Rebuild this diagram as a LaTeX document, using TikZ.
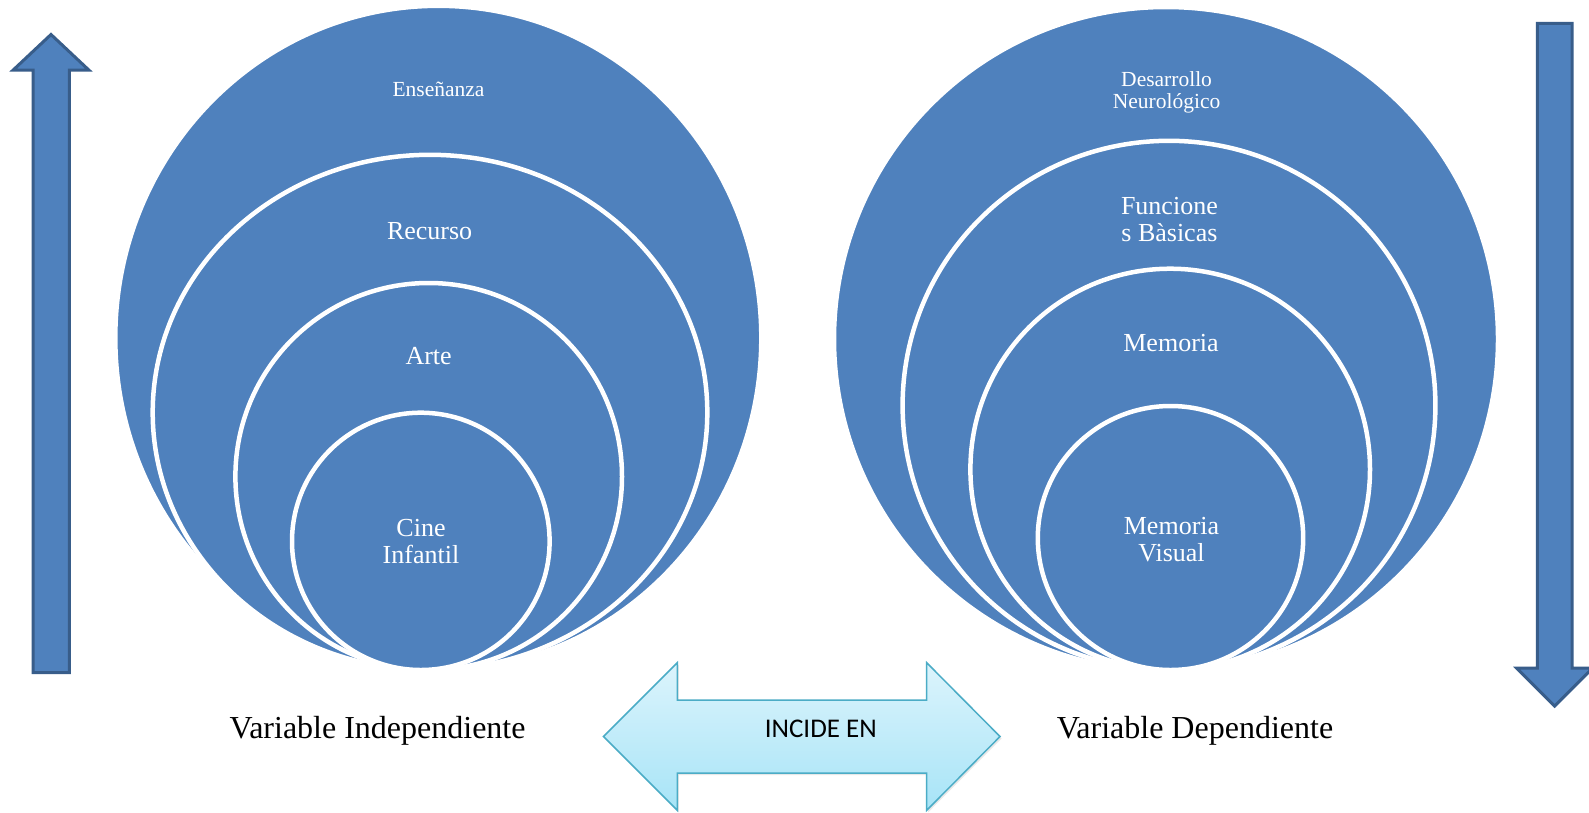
\documentclass[tikz,border=0pt]{standalone}
\usepackage{fontspec}
\setmainfont{Liberation Serif}
\newfontfamily\calibri{Carlito}
\usetikzlibrary{shadows}
\definecolor{ofblue}{HTML}{4F81BD}
\definecolor{ofdark}{HTML}{385D8A}
\definecolor{aqua}{HTML}{4BACC6}
\definecolor{aquatop}{HTML}{DCF4FC}
\definecolor{aquabot}{HTML}{A7E4F7}
\begin{document}
\begin{tikzpicture}[x=1pt,y=-1pt,
  disc/.style={fill=ofblue, draw=white, line width=4.5pt},
  lbl/.style={text=white, align=center, inner sep=0pt, anchor=base, font=\fontsize{26}{27}\selectfont},
  lblsmall/.style={lbl, font=\fontsize{21.5}{22}\selectfont},
  side/.style={fill=ofblue, draw=ofdark, line width=3pt, line join=miter},
  caption/.style={anchor=base, inner sep=0pt, font=\fontsize{32}{34}\selectfont}]
\useasboundingbox (0,0) rectangle (1589,812);
\clip (0,0) rectangle (1589,812);
\fill[white] (0,0) rectangle (1589,812);

% left stack
\draw[disc] (438.3,337.9) ellipse [x radius=323, y radius=332.1];
\draw[disc] (430,412.4) ellipse [x radius=277.3, y radius=257.6];
\draw[disc] (428.7,476.5) ellipse [x radius=193.3, y radius=193.5];
\draw[disc] (420.8,541.35) ellipse [x radius=128.8, y radius=128.65];

\node[lblsmall] (ens) at (438.5,96.7) {Enseñanza};
\node[lbl] (rec) at (429.6,239) {Recurso};
\node[lbl] (arte) at (428.6,364) {Arte};
\node[lbl] (cine) at (421,563.5) {Cine\\Infantil};

% right stack
\draw[disc] (1166,339) ellipse [x radius=332, y radius=332];
\draw[disc] (1169,405.4) ellipse [x radius=266.4, y radius=264.6];
\draw[disc] (1170.2,469.35) ellipse [x radius=199.8, y radius=200.65];
\draw[disc] (1170.5,538) ellipse [x radius=132.7, y radius=132];

\node[lblsmall] (des) at (1166.6,108.5) {Desarrollo\\Neurológico};
\node[lbl] (fun) at (1169.4,241.5) {Funcione\\s Bàsicas};
\node[lbl] (mem) at (1171,351.5) {Memoria};
\node[lbl] (memv) at (1171.5,561.5) {Memoria\\Visual};

% side arrows
\draw[side] (51,34.5) -- (88.8,70) -- (69.4,70) -- (69.4,672.5) -- (33.1,672.5) -- (33.1,70) -- (13.2,70) -- cycle;
\draw[side] (1554.6,706) -- (1516.6,668) -- (1537.3,668) -- (1537.3,23.25) -- (1572,23.25) -- (1572,668) -- (1592.6,668) -- cycle;

% middle double arrow
\draw[draw=aqua, line width=1.5pt, line join=miter, top color=aquatop, bottom color=aquabot,
      drop shadow={shadow xshift=1.5pt, shadow yshift=-2pt, opacity=0.18}]
  (603.5,736.5) -- (677.3,662.7) -- (677.3,700) -- (926.7,700) -- (926.7,662.7) -- (1000,736.5)
  -- (926.7,810.3) -- (926.7,773) -- (677.3,773) -- (677.3,810.3) -- cycle;
\node[anchor=base, inner sep=0pt, font=\calibri\fontsize{27}{30}\selectfont] (inc) at (820.8,737.3) {INCIDE EN};

\node[caption] (vi) at (377.6,738) {Variable Independiente};
\node[caption] (vd) at (1195,738) {Variable Dependiente};
\end{tikzpicture}
\end{document}
